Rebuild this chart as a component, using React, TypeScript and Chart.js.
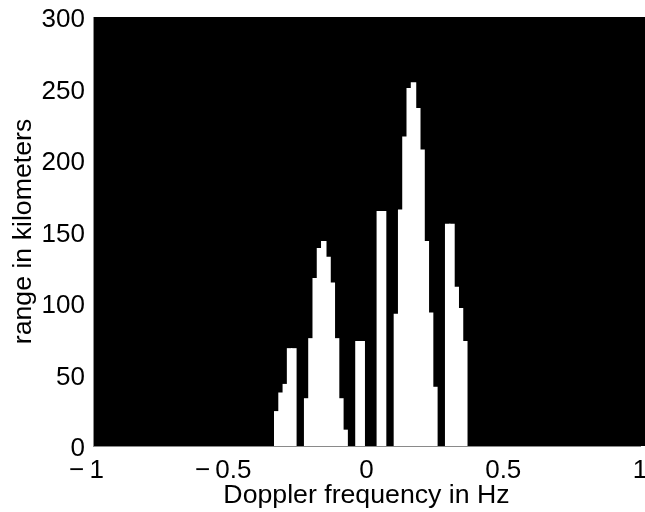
import React, { useEffect, useRef } from 'react';
import { Chart, registerables } from 'chart.js';

Chart.register(...registerables);

// Doppler frequency bin centres (Hz)
const frequencies = [
  -0.328125, -0.3125, -0.296875, -0.28125, -0.265625, -0.25, -0.234375, -0.21875,
  -0.203125, -0.1875, -0.171875, -0.15625, -0.140625, -0.125, -0.109375, -0.09375,
  -0.078125, -0.0625, -0.046875, -0.03125, -0.015625, 0, 0.015625, 0.03125,
  0.046875, 0.0625, 0.078125, 0.09375, 0.109375, 0.125, 0.140625, 0.15625,
  0.171875, 0.1875, 0.203125, 0.21875, 0.234375, 0.25, 0.265625, 0.28125,
  0.296875, 0.3125, 0.328125, 0.34375, 0.359375,
];

// range in kilometers for each bin
const ranges = [
  24, 37, 43, 68, 68, 0, 0, 33,
  75, 117, 138, 143, 132, 114, 75, 33,
  11, 0, 0, 73, 73, 0, 0, 0,
  164, 164, 0, 0, 92, 165, 216, 250,
  254, 236, 207, 143, 93, 41, 0, 0,
  155, 155, 111, 96, 73,
];

const xTickValues = [-1, -0.5, 0, 0.5, 1];
const yTickValues = [0, 50, 100, 150, 200, 250, 300];

const xTitle = 'Doppler frequency in Hz';
const yTitle = 'range in kilometers';

const FONT_FAMILY = '"Liberation Sans", Arial, Helvetica, sans-serif';

function fmtX(v: number): string {
  if (v < 0) return '\u2212\u2009' + String(Math.abs(v)) + '\u2002';
  return String(v);
}

export default function App() {
  const ref = useRef<HTMLCanvasElement>(null);

  useEffect(() => {
    const bgPlugin = {
      id: 'blackBg',
      beforeDraw(chart: any) {
        const { ctx, chartArea: a } = chart;
        ctx.save();
        ctx.fillStyle = '#000';
        ctx.fillRect(a.left, a.top, chart.width - a.left, a.bottom - a.top);
        ctx.restore();
      },
    };

    const tickFont = { family: FONT_FAMILY, size: 26 };
    const titleFont = { family: FONT_FAMILY, size: 26.7 };

    const chart = new Chart(ref.current as HTMLCanvasElement, {
      type: 'bar',
      data: {
        datasets: [
          {
            data: frequencies.map((f, i) => ({ x: f, y: ranges[i] })),
            backgroundColor: (c: any) => (c.raw && c.raw.y > 0 ? '#ffffff' : 'rgba(0,0,0,0)'),
            borderWidth: 0,
            inflateAmount: 0.6,
            barPercentage: 1,
            categoryPercentage: 1,
          },
        ],
      },
      options: {
        responsive: false,
        animation: false,
        layout: { padding: { top: 17, right: 5, left: 0, bottom: 0 } },
        plugins: { legend: { display: false }, tooltip: { enabled: false } },
        scales: {
          x: {
            type: 'linear',
            min: -1,
            max: 1,
            offset: false,
            grid: { display: false, drawTicks: false },
            border: { display: true, color: '#8a8a8a', width: 1 },
            afterBuildTicks: (s: any) => {
              s.ticks = xTickValues.map((v) => ({ value: v }));
            },
            afterFit: (s: any) => {
              s.height = 66;
              s.paddingLeft = 0;
              s.paddingRight = 0;
            },
            ticks: {
              font: tickFont,
              color: '#000',
              padding: 9,
              maxRotation: 0,
              autoSkip: false,
              callback: (v: any) => fmtX(Number(v)),
            },
            title: {
              display: true,
              text: xTitle,
              font: titleFont,
              color: '#000',
              padding: { top: 0, bottom: 0 },
            },
          },
          y: {
            type: 'linear',
            min: 0,
            max: 300,
            grid: { display: false, drawTicks: false },
            border: { display: true, color: '#8a8a8a', width: 1 },
            afterBuildTicks: (s: any) => {
              s.ticks = yTickValues.map((v) => ({ value: v }));
            },
            afterFit: (s: any) => {
              s.width = 93;
              s.paddingTop = 0;
              s.paddingBottom = 0;
            },
            ticks: {
              font: tickFont,
              color: '#000',
              padding: 8,
              labelOffset: 3,
              autoSkip: false,
              callback: (v: any) => String(v),
            },
            title: {
              display: true,
              text: yTitle,
              font: titleFont,
              color: '#000',
              padding: { top: 8, bottom: 0 },
            },
          },
        },
      },
      plugins: [bgPlugin],
    } as any);

    return () => chart.destroy();
  }, []);

  return (
    <div style={{ position: 'absolute', left: 0, top: 0, width: 645, height: 512, background: '#fff' }}>
      <canvas ref={ref} width={645} height={512} style={{ display: 'block' }} />
    </div>
  );
}
